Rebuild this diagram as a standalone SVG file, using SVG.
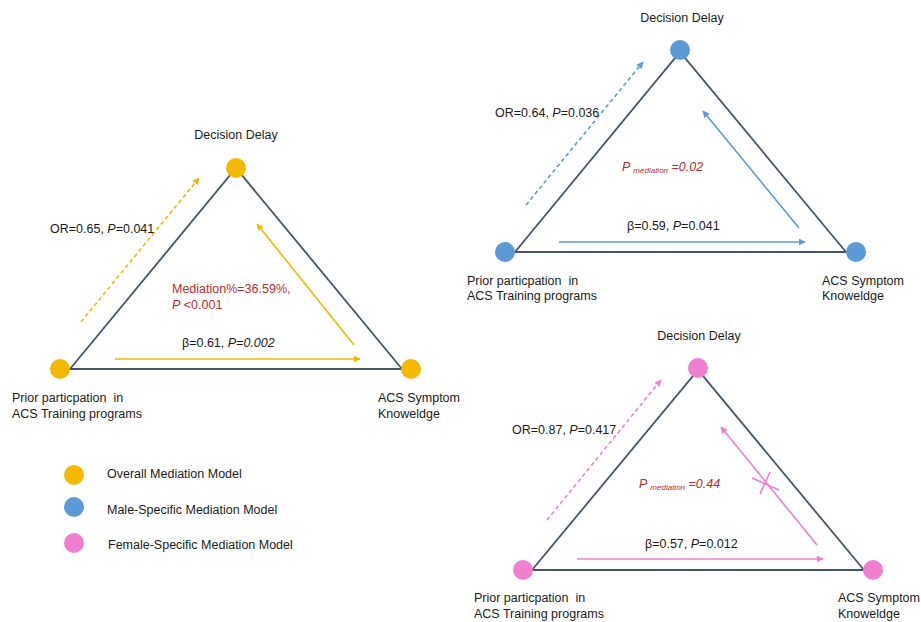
<svg xmlns="http://www.w3.org/2000/svg" width="921" height="622" viewBox="0 0 921 622">
<defs>
<marker id="ay" viewBox="0 0 10 10" refX="9" refY="5" markerWidth="7" markerHeight="7" markerUnits="userSpaceOnUse" orient="auto"><path d="M0,0 L10,5 L0,10 z" fill="#f5b800"/></marker>
<marker id="ab" viewBox="0 0 10 10" refX="9" refY="5" markerWidth="7" markerHeight="7" markerUnits="userSpaceOnUse" orient="auto"><path d="M0,0 L10,5 L0,10 z" fill="#5b9bd5"/></marker>
<marker id="ap" viewBox="0 0 10 10" refX="9" refY="5" markerWidth="7" markerHeight="7" markerUnits="userSpaceOnUse" orient="auto"><path d="M0,0 L10,5 L0,10 z" fill="#f07fd2"/></marker>
</defs>
<style>
text{font-family:"Liberation Sans","Open Sans",Arial,sans-serif;font-size:12.5px;fill:#1a1a1a}
.red{fill:#c0282d}
.i{font-style:italic}
.sub{font-size:8px}
.tri{fill:none;stroke:#44546a;stroke-width:1.8;stroke-linejoin:miter}
.y{stroke:#f5b800;stroke-width:1.6;fill:none}
.b{stroke:#5b9bd5;stroke-width:1.6;fill:none}
.p{stroke:#f07fd2;stroke-width:1.6;fill:none}
.d{stroke-dasharray:4 3}
.cy{fill:#f5b800}
.cb{fill:#5b9bd5}
.cp{fill:#f07fd2}
.mid{text-anchor:middle}
</style>
<rect width="921" height="622" fill="#fff"/>

<g id="connectors">
  <path class="tri" d="M70,369 L236,168 L402,369 Z"/>
  <line class="y d" x1="81" y1="322" x2="199" y2="178" marker-end="url(#ay)"/>
  <line class="y" x1="354" y1="345" x2="257" y2="224" marker-end="url(#ay)"/>
  <line class="y" x1="115" y1="359" x2="360" y2="359" marker-end="url(#ay)"/>
  <path class="tri" d="M515,252 L680,52 L846,252 Z"/>
  <line class="b d" x1="526" y1="205" x2="643" y2="62" marker-end="url(#ab)"/>
  <line class="b" x1="799" y1="228" x2="703" y2="111" marker-end="url(#ab)"/>
  <line class="b" x1="559" y1="242" x2="805" y2="242" marker-end="url(#ab)"/>
  <path class="tri" d="M532,570 L698,370 L864,570 Z"/>
  <line class="p d" x1="547" y1="520" x2="661" y2="380" marker-end="url(#ap)"/>
  <line class="p" x1="817" y1="545" x2="721" y2="427" marker-end="url(#ap)"/>
  <line class="p" x1="752" y1="478" x2="779" y2="490"/>
  <line class="p" x1="770" y1="472" x2="760" y2="494"/>
  <line class="p" x1="577" y1="559" x2="823" y2="559" marker-end="url(#ap)"/>
</g>

<g id="labels">
  <text x="50" y="233">OR=0.65, <tspan class="i">P</tspan>=0.041</text>
  <text class="red" x="172" y="293">Mediation%=36.59%,</text>
  <text class="red" x="172" y="309"><tspan class="i">P</tspan> &lt;0.001</text>
  <text x="182" y="347">β=0.61, <tspan class="i">P=0.002</tspan></text>
  <text x="495" y="117">OR=0.64, <tspan class="i">P</tspan>=0.036</text>
  <text class="red i" x="622" y="171">P <tspan class="sub" dy="2">mediation</tspan><tspan dy="-2"> =0.02</tspan></text>
  <text x="627" y="230">β=0.59, <tspan class="i">P</tspan>=0.041</text>
  <text x="512" y="434">OR=0.87, <tspan class="i">P</tspan>=0.417</text>
  <text class="red i" x="639" y="488">P <tspan class="sub" dy="2">mediation</tspan><tspan dy="-2"> =0.44</tspan></text>
  <text x="645" y="548">β=0.57, <tspan class="i">P</tspan>=0.012</text>
</g>

<g id="o-delay"><circle class="cy" cx="236" cy="168" r="10"/><text class="mid" x="236" y="139">Decision Delay</text></g>
<g id="o-prior"><circle class="cy" cx="60" cy="369" r="10"/><text x="12" y="402">Prior particpation&#160; in</text><text x="12" y="418">ACS Training programs</text></g>
<g id="o-know"><circle class="cy" cx="411" cy="369" r="10"/><text x="378" y="402">ACS Symptom</text><text x="378" y="418">Knoweldge</text></g>

<g id="m-delay"><circle class="cb" cx="680" cy="50" r="10"/><text class="mid" x="682" y="22">Decision Delay</text></g>
<g id="m-prior"><circle class="cb" cx="505" cy="252" r="10"/><text x="467" y="285">Prior particpation&#160; in</text><text x="467" y="300">ACS Training programs</text></g>
<g id="m-know"><circle class="cb" cx="856" cy="252" r="10"/><text x="822" y="285">ACS Symptom</text><text x="822" y="300">Knoweldge</text></g>

<g id="f-delay"><circle class="cp" cx="698" cy="368" r="10"/><text class="mid" x="699" y="340">Decision Delay</text></g>
<g id="f-prior"><circle class="cp" cx="523" cy="570" r="10"/><text x="474" y="602">Prior particpation&#160; in</text><text x="474" y="618">ACS Training programs</text></g>
<g id="f-know"><circle class="cp" cx="873" cy="570" r="10"/><text x="838" y="602">ACS Symptom</text><text x="838" y="618">Knoweldge</text></g>

<g id="legend">
  <circle class="cy" cx="74" cy="475" r="10"/><text x="107" y="478">Overall Mediation Model</text>
  <circle class="cb" cx="74" cy="507" r="10"/><text x="107" y="514">Male-Specific Mediation Model</text>
  <circle class="cp" cx="74" cy="543" r="10"/><text x="108" y="549">Female-Specific Mediation Model</text>
</g>
</svg>
